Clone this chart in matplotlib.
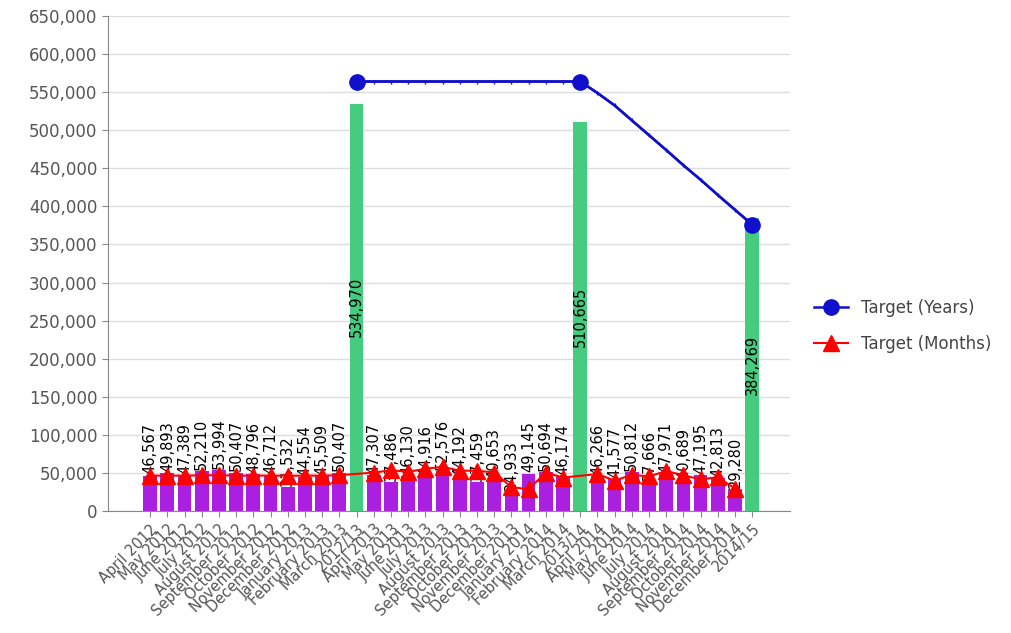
import matplotlib
matplotlib.use('Agg')
import matplotlib.pyplot as plt
from matplotlib.ticker import FuncFormatter, MultipleLocator

months = ['April', 'May', 'June', 'July', 'August', 'September', 'October',
          'November', 'December', 'January', 'February', 'March']

labels = ([f"{m} {2012 if i < 9 else 2013}" for i, m in enumerate(months)] + ['2012/13'] +
          [f"{m} {2013 if i < 9 else 2014}" for i, m in enumerate(months)] + ['2013/14'] +
          [f"{m} 2014" for m in months[:9]] + ['2014/15'])

# monthly actuals (purple bars)
monthly_1213 = [46567, 49893, 47389, 52210, 53994, 50407, 48796, 46712, 31532, 44554, 45509, 50407]
monthly_1314 = [47307, 37486, 46130, 44916, 52576, 44192, 37459, 40653, 24933, 49145, 50694, 46174]
monthly_1415 = [46266, 41577, 50812, 37666, 47971, 40689, 47195, 42813, 29280]

# yearly actuals (green bars)
yearly = [534970, 510665, 384269]

# Target (Months)
target_months_1213 = [46500, 46500, 46500, 46800, 47000, 46500, 46500, 46500, 46300, 46500, 46500, 47000]
target_months_1314 = [50500, 53500, 51500, 55500, 58000, 53000, 53000, 50500, 31500, 28500, 50500, 44000]
target_months_1415 = [48500, 40000, 47500, 45500, 52500, 47000, 41500, 44500, 29500]

# Target (Years), from 2012/13 onwards
target_years = [564000] * 14 + [549000, 532600, 513000, 493500, 474000, 454000,
                                435000, 415000, 395500, 376000]

# assemble positions
bar_x, bar_v = [], []
green_x = []
tm_x, tm_v = [], []
pos = 0
for mvals, tvals, yv in [(monthly_1213, target_months_1213, yearly[0]),
                         (monthly_1314, target_months_1314, yearly[1]),
                         (monthly_1415, target_months_1415, yearly[2])]:
    for v, t in zip(mvals, tvals):
        bar_x.append(pos)
        bar_v.append(v)
        tm_x.append(pos)
        tm_v.append(t)
        pos += 1
    green_x.append(pos)
    pos += 1

ty_x = list(range(green_x[0], green_x[0] + len(target_years)))

fig = plt.figure(figsize=(10.12, 6.33), dpi=100)
ax = fig.add_axes([0.1067, 0.1927, 0.674, 0.782])

ax.bar(bar_x, bar_v, width=0.8, color='#ab1fe0', zorder=2)
ax.bar(green_x, yearly, width=0.8, color='#45cc7e', zorder=2)

for x, v in zip(bar_x, bar_v):
    ax.text(x, v + 1500, f"{v:,}", rotation=90, ha='center', va='bottom',
            fontsize=10.5, color='black', zorder=3)
for x, v in zip(green_x, yearly):
    ax.text(x, v / 2, f"{v:,}", rotation=90, ha='center', va='center',
            fontsize=10.5, color='black', zorder=3)

ax.plot(ty_x, target_years, color='#1010cc', lw=1.8, marker='|', ms=3, zorder=4)
big = [i for i, x in enumerate(ty_x) if x in green_x]
ax.plot(ty_x, target_years, color='#1010cc', lw=1.8, marker='o', ms=11,
        markevery=big, label='Target (Years)', zorder=5)
ax.plot(tm_x, tm_v, color='#ff0000', lw=1.5, marker='^', ms=11,
        label='Target (Months)', zorder=5)

ax.set_ylim(0, 650000)
ax.set_xlim(-2.45, 37.2)
ax.yaxis.set_major_locator(MultipleLocator(50000))
ax.yaxis.set_major_formatter(FuncFormatter(lambda v, p: f"{int(v):,}"))
ax.grid(axis='y', color='#dddddd', lw=1, zorder=0)
ax.set_axisbelow(True)

ax.set_xticks(range(len(labels)))
ax.set_xticklabels(labels, rotation=45, ha='right', rotation_mode='anchor',
                   fontsize=10.5, color='#555555')
ax.tick_params(axis='y', labelsize=12, labelcolor='#555555', color='#888888', length=4)
ax.tick_params(axis='x', color='#888888', length=4)

for s in ['top', 'right']:
    ax.spines[s].set_visible(False)
for s in ['left', 'bottom']:
    ax.spines[s].set_color('#888888')

fig.legend(loc='center left', bbox_to_anchor=(0.79, 0.485), frameon=False,
           fontsize=12, labelcolor='#444444', handlelength=2.0, labelspacing=1.1)

fig.savefig('out.png', dpi=100)
